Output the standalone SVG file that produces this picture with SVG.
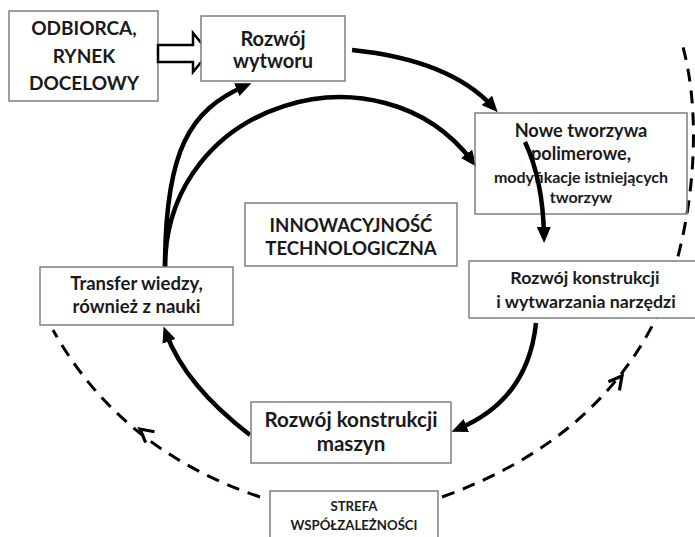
<svg xmlns="http://www.w3.org/2000/svg" width="695" height="537" viewBox="0 0 695 537">
<defs>
<style>
.box{fill:#fff;stroke:#7f7f7f;stroke-width:1.5}
.t{font-family:Lato,"Liberation Sans",sans-serif;font-weight:bold;fill:#1a1a1a;text-anchor:middle}
.arr{fill:none;stroke:#000;stroke-width:4.5}
.dash{fill:none;stroke:#000;stroke-width:3;stroke-dasharray:13 9}
.chev{fill:none;stroke:#000;stroke-width:3.2;stroke-linejoin:miter}
</style>
<marker id="ah" viewBox="0 0 16 14" refX="9" refY="7" markerWidth="16" markerHeight="14" markerUnits="userSpaceOnUse" orient="auto">
<path d="M0,0 L16,7 L0,14 z" fill="#000"/>
</marker>
</defs>

<g id="connectors">
<path class="arr" d="M352,50 Q450,60 493,107" marker-end="url(#ah)"/>
<path class="arr" d="M165,268 C165,100 380,40 472,161" marker-end="url(#ah)"/>
<path class="arr" d="M165,268 C165,150 190,110 245,86" marker-end="url(#ah)"/>
<path class="arr" d="M536,323 Q528,400 458,429" marker-end="url(#ah)"/>
<path class="arr" d="M250,435 Q185,385 166,333" marker-end="url(#ah)"/>
<path class="dash" d="M260,497 Q120,450 53,330"/>
<path class="chev" d="M154.5,431.7 L140,429 L145.7,442.7"/>
<path class="dash" d="M442,497 Q600,440 660,310 C690,240 705,130 683,47"/>
<path class="chev" d="M608.4,381.8 L622,376 L619.4,390.4"/>
</g>

<g id="odbiorca">
<rect class="box" x="9" y="11" width="149" height="90"/>
<text class="t" x="84" y="35" font-size="19">ODBIORCA,</text>
<text class="t" x="84" y="63" font-size="19">RYNEK</text>
<text class="t" x="84" y="90" font-size="19">DOCELOWY</text>
</g>

<g id="hollow-arrow">
<polygon points="158,45 193,45 193,33 209,52.5 193,72 193,62 158,62" fill="#fff" stroke="#000" stroke-width="2.5"/>
</g>

<g id="rozwoj-wytworu">
<rect class="box" x="201" y="16" width="144" height="65"/>
<text class="t" x="273" y="46" font-size="20">Rozwój</text>
<text class="t" x="273" y="68" font-size="20">wytworu</text>
</g>

<g id="nowe-tworzywa">
<rect class="box" x="475" y="113" width="212" height="101" fill-opacity="0"/>
<text class="t" x="581" y="137" font-size="18.2">Nowe tworzywa</text>
<text class="t" x="581" y="160" font-size="18.2">polimerowe,</text>
<text class="t" x="581" y="183" font-size="16">modyfikacje istniejących</text>
<text class="t" x="581" y="203" font-size="16">tworzyw</text>
</g>

<g id="arrow-inside">
<path class="arr" d="M525,142 Q543,180 544,236" marker-end="url(#ah)"/>
</g>

<g id="innowacyjnosc">
<rect class="box" x="245" y="203" width="212" height="63"/>
<text class="t" x="351" y="232" font-size="18.6">INNOWACYJNOŚĆ</text>
<text class="t" x="351" y="255" font-size="18.6">TECHNOLOGICZNA</text>
</g>

<g id="transfer">
<rect class="box" x="40" y="267" width="193" height="58"/>
<text class="t" x="136.5" y="290" font-size="18.5">Transfer wiedzy,</text>
<text class="t" x="136.5" y="313" font-size="18.5">również z nauki</text>
</g>

<g id="narzedzia">
<rect class="box" x="469" y="261" width="232" height="57"/>
<text class="t" x="585" y="284" font-size="17.8">Rozwój konstrukcji</text>
<text class="t" x="586" y="308" font-size="17.8">i wytwarzania narzędzi</text>
</g>

<g id="maszyny">
<rect class="box" x="251" y="402" width="200" height="61"/>
<text class="t" x="351" y="427" font-size="20.6">Rozwój konstrukcji</text>
<text class="t" x="351" y="451" font-size="20.6">maszyn</text>
</g>

<g id="strefa">
<rect class="box" x="270" y="491" width="168" height="48"/>
<text class="t" x="354" y="511" font-size="13.2">STREFA</text>
<text class="t" x="354" y="530" font-size="13.2">WSPÓŁZALEŻNOŚCI</text>
</g>
</svg>
